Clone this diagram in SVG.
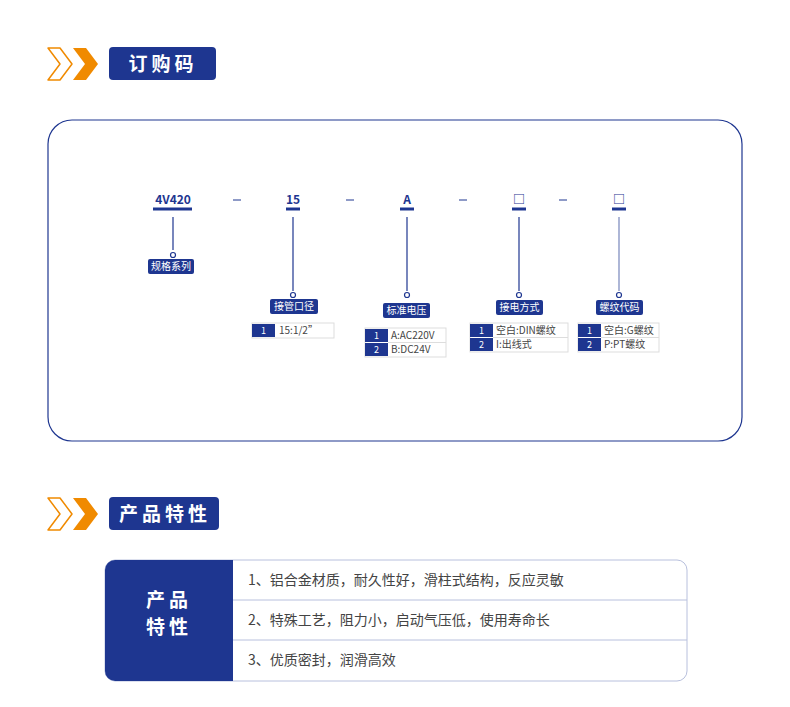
<svg xmlns="http://www.w3.org/2000/svg" width="790" height="707" viewBox="0 0 790 707">
<style>
text{font-family:"Noto Sans CJK SC","Noto Sans",sans-serif}
.code{font-size:12px;font-weight:bold;fill:#1e3690;text-anchor:middle}
.dash{stroke:#1e3690;stroke-width:1}
.ul{stroke:#1e3690;stroke-width:3}
.vl{stroke:#1e3690;stroke-width:1.2}
.dot{fill:#fff;stroke:#1e3690;stroke-width:1.2}
.lb{fill:#1e3690}
.lt{font-size:10px;fill:#fff;text-anchor:middle}
.cell{fill:#fff;stroke:#ddd;stroke-width:1}
.num{fill:#1e3690}
.nt{font-size:9px;fill:#fff;text-anchor:middle}
.ct{font-size:10px;fill:#444}
.ht{font-size:19px;font-weight:bold;fill:#fff;text-anchor:middle;letter-spacing:4px}
.rt{font-size:14px;fill:#444}
</style>
<rect width="790" height="707" fill="#fff"/>
<g id="header1">
<path d="M48,48 L60,48 L72,64 L60,80 L48,80 L60,64 Z" fill="none" stroke="#f08a00" stroke-width="1.5" stroke-linejoin="round"/>
<path d="M73,48 L86,48 L98,64 L86,80 L73,80 L85,64 Z" fill="#f08a00"/>
<rect x="109" y="47" width="107" height="33" rx="4" fill="#1e3690"/>
<text x="163" y="71" class="ht">订购码</text>
</g>
<rect x="48" y="120" width="694" height="321" rx="24" fill="#fff" stroke="#1e3690" stroke-width="1.2"/>
<g id="connectors">
<line class="dash" x1="233" y1="200" x2="241" y2="200"/>
<line class="dash" x1="346" y1="200" x2="354" y2="200"/>
<line class="dash" x1="459" y1="200" x2="467" y2="200"/>
<line class="dash" x1="559" y1="200" x2="567" y2="200"/>
<line class="vl" x1="173" y1="217" x2="173" y2="250"/>
<line class="vl" x1="293" y1="217" x2="293" y2="291"/>
<line class="vl" x1="407" y1="217" x2="407" y2="291"/>
<line class="vl" x1="519" y1="217" x2="519" y2="291"/>
<line class="vl" x1="619" y1="217" x2="619" y2="291" stroke-opacity="0.6"/>
</g>
<g id="n1">
<text x="173" y="204" class="code">4V420</text><line class="ul" x1="153" y1="209" x2="192" y2="209"/>
<circle class="dot" cx="173" cy="255" r="2.5"/>
<rect class="lb" x="148" y="259" width="46" height="15" rx="2"/><text x="171" y="270" class="lt">规格系列</text>
</g>
<g id="n2">
<text x="293" y="204" class="code">15</text><line class="ul" x1="286" y1="209" x2="300" y2="209"/>
<circle class="dot" cx="293" cy="295" r="2.5"/>
<rect class="lb" x="270" y="299" width="48" height="15" rx="2"/><text x="294" y="310" class="lt">接管口径</text>
<rect class="cell" x="252" y="323" width="82" height="15"/><rect class="num" x="252" y="324" width="23" height="13"/>
<text x="263.5" y="334" class="nt">1</text><text x="279" y="334" class="ct">15:1/2”</text>
</g>
<g id="n3">
<text x="407" y="204" class="code">A</text><line class="ul" x1="400" y1="209" x2="414" y2="209"/>
<circle class="dot" cx="407" cy="295" r="2.5"/>
<rect class="lb" x="383" y="303" width="47" height="15" rx="2"/><text x="406.5" y="314" class="lt">标准电压</text>
<rect class="cell" x="365" y="328" width="81" height="29"/><rect class="num" x="365" y="329" width="23" height="13"/><rect class="num" x="365" y="343" width="23" height="13"/>
<text x="376.5" y="339" class="nt">1</text><text x="376.5" y="353" class="nt">2</text>
<line x1="388" y1="342.5" x2="446" y2="342.5" stroke="#ddd"/>
<text x="391" y="339" class="ct">A:AC220V</text><text x="391" y="353" class="ct">B:DC24V</text>
</g>
<g id="n4">
<text x="519" y="204" class="code" font-weight="normal">□</text><line class="ul" x1="512" y1="209" x2="526" y2="209"/>
<circle class="dot" cx="519" cy="295" r="2.5"/>
<rect class="lb" x="496" y="300" width="47" height="15" rx="2"/><text x="519.5" y="311" class="lt">接电方式</text>
<rect class="cell" x="470" y="323" width="98" height="29"/><rect class="num" x="470" y="324" width="23" height="13"/><rect class="num" x="470" y="338" width="23" height="13"/>
<text x="481.5" y="334" class="nt">1</text><text x="481.5" y="348" class="nt">2</text>
<line x1="493" y1="337.5" x2="568" y2="337.5" stroke="#ddd"/>
<text x="496" y="334" class="ct">空白:DIN螺纹</text><text x="496" y="348" class="ct">I:出线式</text>
</g>
<g id="n5">
<text x="619" y="204" class="code" font-weight="normal">□</text><line class="ul" x1="612" y1="209" x2="626" y2="209"/>
<circle class="dot" cx="619" cy="295" r="2.5"/>
<rect class="lb" x="596" y="300" width="47" height="15" rx="2"/><text x="619.5" y="311" class="lt">螺纹代码</text>
<rect class="cell" x="578" y="323" width="81" height="29"/><rect class="num" x="578" y="324" width="23" height="13"/><rect class="num" x="578" y="338" width="23" height="13"/>
<text x="589.5" y="334" class="nt">1</text><text x="589.5" y="348" class="nt">2</text>
<line x1="601" y1="337.5" x2="659" y2="337.5" stroke="#ddd"/>
<text x="604" y="334" class="ct">空白:G螺纹</text><text x="604" y="348" class="ct">P:PT螺纹</text>
</g>
<g id="header2">
<path d="M48,498 L60,498 L72,514 L60,530 L48,530 L60,514 Z" fill="none" stroke="#f08a00" stroke-width="1.5" stroke-linejoin="round"/>
<path d="M73,498 L86,498 L98,514 L86,530 L73,530 L85,514 Z" fill="#f08a00"/>
<rect x="109" y="497" width="110" height="33" rx="4" fill="#1e3690"/>
<text x="165" y="521" class="ht">产品特性</text>
</g>
<g id="features">
<rect x="105" y="560" width="582" height="121" rx="10" fill="#fff" stroke="#b8c0dd" stroke-width="1"/>
<path d="M233,560 L115,560 A10,10 0 0 0 105,570 L105,671 A10,10 0 0 0 115,681 L233,681 Z" fill="#1e3690"/>
<text x="169" y="607" class="ht" font-size="18">产品</text>
<text x="169" y="634" class="ht" font-size="18">特性</text>
<line x1="233" y1="600" x2="687" y2="600" stroke="#b8c0dd"/>
<line x1="233" y1="640" x2="687" y2="640" stroke="#b8c0dd"/>
<text x="248" y="585" class="rt">1、铝合金材质，耐久性好，滑柱式结构，反应灵敏</text>
<text x="248" y="625" class="rt">2、特殊工艺，阻力小，启动气压低，使用寿命长</text>
<text x="248" y="665" class="rt">3、优质密封，润滑高效</text>
</g>
</svg>
